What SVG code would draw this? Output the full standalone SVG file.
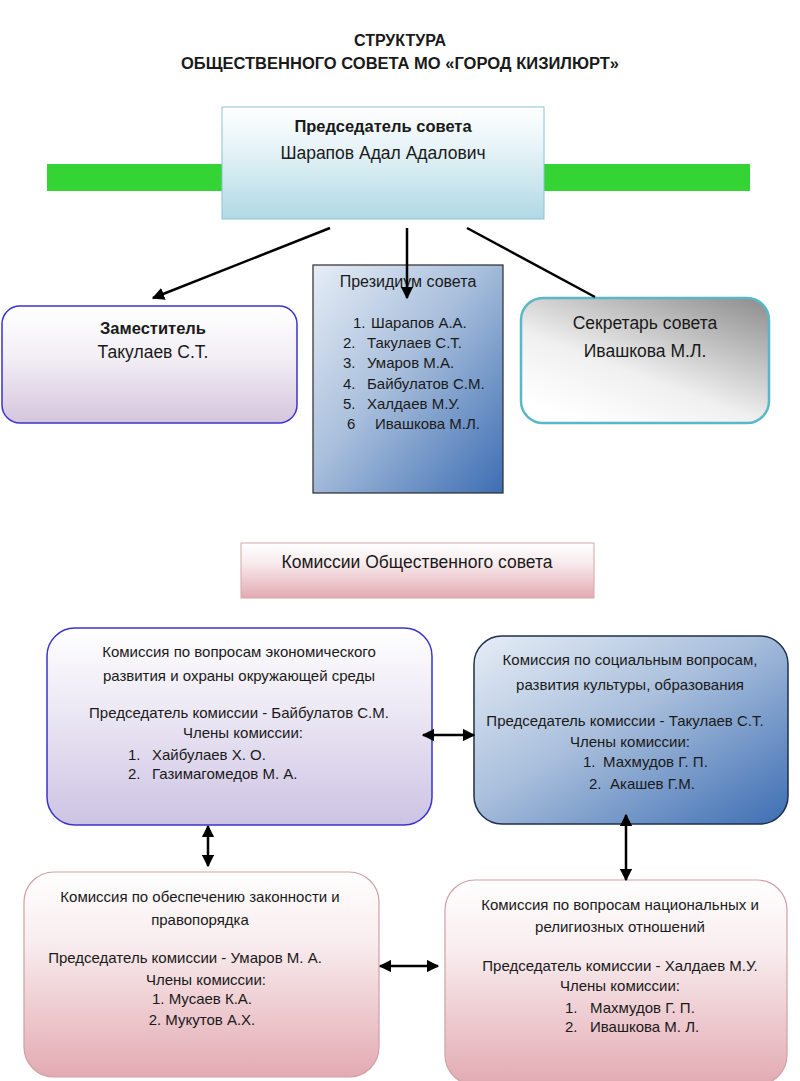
<svg xmlns="http://www.w3.org/2000/svg" width="800" height="1081" viewBox="0 0 800 1081">
<defs>
<linearGradient id="gChair" x1="0" y1="0" x2="0" y2="1"><stop offset="0" stop-color="#ffffff"/><stop offset="0.35" stop-color="#e8f4f8"/><stop offset="1" stop-color="#b0d9e5"/></linearGradient>
<linearGradient id="gDep" x1="0" y1="0" x2="0" y2="1"><stop offset="0" stop-color="#ffffff"/><stop offset="0.45" stop-color="#f2eef5"/><stop offset="1" stop-color="#d5c5dd"/></linearGradient>
<linearGradient id="gBlue" x1="0" y1="0" x2="1" y2="1"><stop offset="0" stop-color="#e6edf6"/><stop offset="0.45" stop-color="#a9bfdc"/><stop offset="1" stop-color="#3d6eb3"/></linearGradient>
<linearGradient id="gSec" x1="0.25" y1="1" x2="1" y2="0"><stop offset="0" stop-color="#ffffff"/><stop offset="0.35" stop-color="#f0f0f0"/><stop offset="1" stop-color="#8c8c8c"/></linearGradient>
<linearGradient id="gPink" x1="0" y1="0" x2="0" y2="1"><stop offset="0" stop-color="#ffffff"/><stop offset="0.35" stop-color="#f8ecee"/><stop offset="1" stop-color="#e3aab2"/></linearGradient>
<linearGradient id="gLav" x1="0" y1="0" x2="0" y2="1"><stop offset="0" stop-color="#ffffff"/><stop offset="0.4" stop-color="#ede9f5"/><stop offset="1" stop-color="#cdc3e3"/></linearGradient>
<marker id="ah" viewBox="0 0 10 10" refX="9" refY="5" markerWidth="5" markerHeight="5" orient="auto-start-reverse"><path d="M0,0 L10,5 L0,10 z" fill="#000"/></marker>
<style>
text{font-family:"Liberation Sans","Open Sans",Arial,sans-serif;fill:#1a1a1a;}
.c{text-anchor:middle;}
.b{font-weight:bold;}
.t{font-size:16px;font-weight:bold;}
.s{font-size:15px;}
.m{font-size:17.5px;}
.conn{stroke:#000;stroke-width:2.5;fill:none;}
</style>
</defs>

<g id="title">
<text class="c t" x="400" y="46">СТРУКТУРА</text>
<text class="c t" x="400" y="69" textLength="438" lengthAdjust="spacingAndGlyphs">ОБЩЕСТВЕННОГО СОВЕТА МО «ГОРОД КИЗИЛЮРТ»</text>
</g>

<g id="bar"><rect x="47" y="164" width="703" height="27" fill="#33d433"/></g>

<g id="chair">
<rect x="222" y="107" width="322" height="112" fill="url(#gChair)" stroke="#8cc4d2" stroke-width="1"/>
<text class="c b" x="383" y="132" font-size="16.5">Председатель совета</text>
<text class="c m" x="383" y="159">Шарапов Адал Адалович</text>
</g>

<g id="deputy">
<rect x="2" y="306" width="295" height="117" rx="18" fill="url(#gDep)" stroke="#3a35c8" stroke-width="1.5"/>
<text class="c b" x="153" y="334" font-size="16.5">Заместитель</text>
<text class="c m" x="153" y="358">Такулаев С.Т.</text>
</g>

<g id="presidium">
<rect x="313" y="265" width="190" height="228" fill="url(#gBlue)" stroke="#2a2a2a" stroke-width="1.2"/>
<text class="c" x="408" y="287" font-size="16">Президиум совета</text>
<text class="s" x="353" y="328">1.</text><text class="s" x="371" y="328">Шарапов А.А.</text>
<text class="s" x="343" y="348">2.</text><text class="s" x="367" y="348">Такулаев С.Т.</text>
<text class="s" x="343" y="368">3.</text><text class="s" x="367" y="368">Умаров М.А.</text>
<text class="s" x="343" y="389">4.</text><text class="s" x="367" y="389">Байбулатов С.М.</text>
<text class="s" x="343" y="409">5.</text><text class="s" x="367" y="409">Халдаев М.У.</text>
<text class="s" x="347" y="429">6</text><text class="s" x="375" y="429">Ивашкова М.Л.</text>
</g>

<g id="secretary">
<rect x="521" y="298" width="248" height="125" rx="22" fill="url(#gSec)" stroke="#5ab8c6" stroke-width="2.5"/>
<text class="c m" x="645" y="329">Секретарь совета</text>
<text class="c m" x="645" y="357">Ивашкова М.Л.</text>
</g>

<g id="commissions">
<rect x="241" y="543" width="353" height="55" fill="url(#gPink)" stroke="#d4a6aa" stroke-width="1"/>
<text class="c m" x="417" y="568">Комиссии Общественного совета</text>
</g>

<g id="comA">
<rect x="47" y="628" width="385" height="197" rx="28" fill="url(#gLav)" stroke="#3a35c8" stroke-width="1.5"/>
<text class="c s" x="239" y="657">Комиссия по вопросам экономического</text>
<text class="c s" x="239" y="681">развития  и охраны окружающей среды</text>
<text class="c s" x="239" y="718">Председатель комиссии - Байбулатов С.М.</text>
<text class="c s" x="243" y="738">Члены комиссии:</text>
<text class="s" x="128" y="760">1.</text><text class="s" x="152" y="760">Хайбулаев Х. О.</text>
<text class="s" x="128" y="779">2.</text><text class="s" x="152" y="779">Газимагомедов М. А.</text>
</g>

<g id="comB">
<rect x="474" y="636" width="314" height="188" rx="28" fill="url(#gBlue)" stroke="#1f2f4f" stroke-width="1.5"/>
<text class="c s" x="630" y="665">Комиссия по социальным вопросам,</text>
<text class="c s" x="630" y="690">развития культуры, образования</text>
<text class="c s" x="625" y="726">Председатель комиссии - Такулаев  С.Т.</text>
<text class="c s" x="630" y="747">Члены комиссии:</text>
<text class="s" x="583" y="767">1.</text><text class="s" x="603" y="767">Махмудов Г. П.</text>
<text class="s" x="589" y="789">2.</text><text class="s" x="610" y="789">Акашев Г.М.</text>
</g>

<g id="comC">
<rect x="24" y="872" width="355" height="205" rx="30" fill="url(#gPink)" stroke="#d0a0a6" stroke-width="1.2"/>
<text class="c s" x="200" y="902">Комиссия по обеспечению законности и</text>
<text class="c s" x="200" y="925">правопорядка</text>
<text class="c s" x="185" y="963">Председатель комиссии - Умаров М. А.</text>
<text class="c s" x="206" y="985">Члены комиссии:</text>
<text class="c s" x="202" y="1004">1.  Мусаев К.А.</text>
<text class="c s" x="202" y="1025">2. Мукутов А.Х.</text>
</g>

<g id="comD">
<rect x="445" y="880" width="342" height="205" rx="30" fill="url(#gPink)" stroke="#d0a0a6" stroke-width="1.2"/>
<text class="c s" x="620" y="910">Комиссия по  вопросам национальных и</text>
<text class="c s" x="620" y="932">религиозных отношений</text>
<text class="c s" x="620" y="971">Председатель комиссии - Халдаев М.У.</text>
<text class="c s" x="620" y="991">Члены комиссии:</text>
<text class="s" x="565" y="1013">1.</text><text class="s" x="590" y="1013">Махмудов  Г. П.</text>
<text class="s" x="565" y="1032">2.</text><text class="s" x="590" y="1032">Ивашкова М. Л.</text>
</g>

<g id="connectors">
<line class="conn" x1="330" y1="228" x2="153" y2="298" marker-end="url(#ah)"/>
<line class="conn" x1="407" y1="228" x2="407" y2="298" marker-end="url(#ah)"/>
<line class="conn" x1="467" y1="228" x2="595" y2="297"/>
<line class="conn" x1="423" y1="735" x2="474" y2="735" marker-start="url(#ah)" marker-end="url(#ah)"/>
<line class="conn" x1="208" y1="826" x2="208" y2="866" marker-start="url(#ah)" marker-end="url(#ah)"/>
<line class="conn" x1="626" y1="815" x2="626" y2="880" marker-start="url(#ah)" marker-end="url(#ah)"/>
<line class="conn" x1="380" y1="966" x2="438" y2="966" marker-start="url(#ah)" marker-end="url(#ah)"/>
</g>
</svg>
